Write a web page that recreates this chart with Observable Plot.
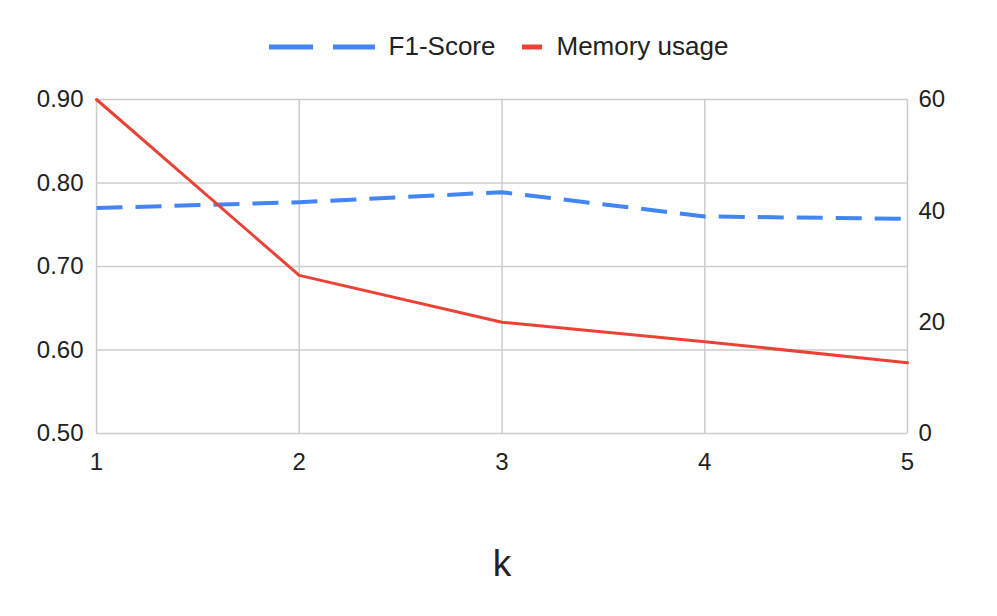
<!DOCTYPE html>
<html>
<head>
<meta charset="utf-8">
<script src="https://cdn.jsdelivr.net/npm/d3@7"></script>
<script src="https://cdn.jsdelivr.net/npm/@observablehq/plot@0.6"></script>
<style>
  html, body { margin: 0; padding: 0; background: #fff; }
  body { width: 997px; height: 616px; overflow: hidden; font-family: "Liberation Sans", Arial, sans-serif; color: #222; }
  #legend { height: 79px; display: flex; justify-content: center; align-items: center; font-size: 26px; padding-top: 14px; box-sizing: border-box; }
  #legend .item { display: flex; align-items: center; }
  #legend svg { display: block; }
  #chart svg { display: block; }
</style>
</head>
<body>
<div id="legend"></div>
<div id="chart"></div>
<script>
const ks = [1, 2, 3, 4, 5];
const f1Score = [0.770, 0.777, 0.789, 0.760, 0.757];
const memoryUsage = [60, 28.4, 20.0, 16.5, 12.7];
const leftTicks = [0.5, 0.6, 0.7, 0.8, 0.9];
const rightTicks = [0, 20, 40, 60];
const seriesNames = ["F1-Score", "Memory usage"];
const colors = ["#4285F4", "#EA4335"];

const yMin = 0.5, yMax = 0.9, memMax = 60;
const memToY = m => yMin + (m / memMax) * (yMax - yMin);
const yToMem = y => (y - yMin) / (yMax - yMin) * memMax;

const f1Data = ks.map((k, i) => ({k, v: f1Score[i]}));
const memData = ks.map((k, i) => ({k, v: memToY(memoryUsage[i])}));

// legend
const legend = document.getElementById("legend");
legend.innerHTML = `
  <div class="item" style="margin-right:27px">
    <svg width="106" height="10" style="margin-right:14px"><line x1="0" x2="106" y1="5" y2="5" stroke="${colors[0]}" stroke-width="5" stroke-dasharray="44,20"/></svg>
    <span>${seriesNames[0]}</span>
  </div>
  <div class="item">
    <svg width="20" height="10" style="margin-right:14px"><line x1="0" x2="20" y1="5" y2="5" stroke="${colors[1]}" stroke-width="5"/></svg>
    <span>${seriesNames[1]}</span>
  </div>`;

const chart = Plot.plot({
  width: 997,
  height: 537,
  marginTop: 20,
  marginBottom: 183,
  marginLeft: 96,
  marginRight: 90,
  style: { fontFamily: "'Liberation Sans', Arial, sans-serif", fontSize: "24px", color: "#222", background: "#fff" },
  x: { domain: [1, 5] },
  y: { domain: [yMin, yMax] },
  marks: [
    Plot.gridY(leftTicks, { stroke: "#cccccc", strokeOpacity: 1, strokeWidth: 1.5 }),
    Plot.gridX(ks, { stroke: "#cccccc", strokeOpacity: 1, strokeWidth: 1.5 }),
    Plot.axisY({ anchor: "left", ticks: leftTicks, tickSize: 0, tickPadding: 13, tickFormat: d3.format(".2f"), label: null, fontSize: 24, fill: "#222" }),
    Plot.axisY({ anchor: "right", ticks: rightTicks.map(memToY), tickSize: 0, tickPadding: 11, tickFormat: d => String(Math.round(yToMem(d))), label: null, fontSize: 24, fill: "#222" }),
    Plot.axisX({ ticks: ks, tickSize: 0, tickPadding: 19, tickFormat: d3.format("d"), label: null, fontSize: 24, fill: "#222" }),
    Plot.line(f1Data, { x: "k", y: "v", stroke: colors[0], strokeWidth: 4, strokeDasharray: "26,13", strokeLinecap: "butt" }),
    Plot.line(memData, { x: "k", y: "v", stroke: colors[1], strokeWidth: 3 }),
    Plot.text(["k"], { text: d => d, frameAnchor: "bottom", dy: 142, fontSize: 37, fill: "#222" })
  ]
});
document.getElementById("chart").appendChild(chart);
</script>
</body>
</html>
